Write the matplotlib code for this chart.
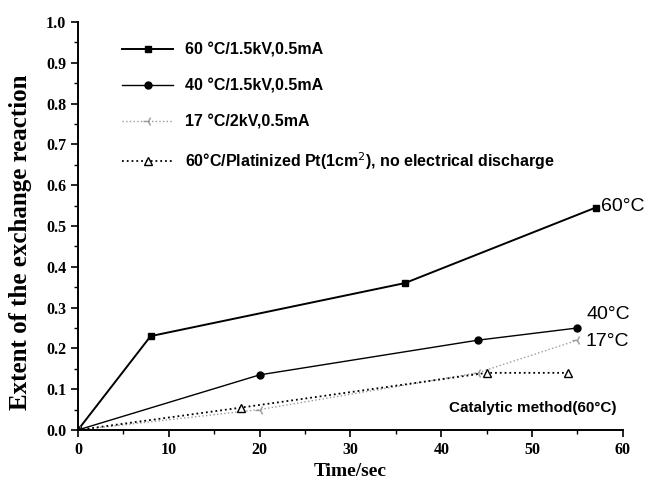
import matplotlib
matplotlib.use("Agg")
import matplotlib.pyplot as plt
from matplotlib.ticker import MultipleLocator

# data
t_60 = [0, 8, 36, 57]
y_60 = [0.0, 0.23, 0.36, 0.545]
t_40 = [0, 20, 44, 55]
y_40 = [0.0, 0.135, 0.22, 0.25]
t_17 = [0, 20, 44, 55]
y_17 = [0.0, 0.05, 0.14, 0.22]
t_pt = [0, 18, 45, 54]
y_pt = [0.0, 0.055, 0.14, 0.14]

labels = ["60 \u00b0C/1.5kV,0.5mA", "40 \u00b0C/1.5kV,0.5mA", "17 \u00b0C/2kV,0.5mA",
          "60\u00b0C/Platinized Pt(1cm$^2$), no electrical discharge"]

serif = {"family": "Liberation Serif", "weight": "bold"}

fig = plt.figure(figsize=(6.55, 4.94), dpi=100)
ax = fig.add_axes([0.119, 0.1296, 0.832, 0.826])

ax.plot(t_60, y_60, "-", color="black", lw=1.4, marker="s", ms=5, label=labels[0])
ax.plot(t_40, y_40, "-", color="black", lw=1.0, marker="o", ms=5, label=labels[1])
ax.plot(t_17, y_17, ":", color="#9a9a9a", lw=1.0, marker="3", ms=7, label=labels[2])
ax.plot(t_pt, y_pt, ":", color="black", lw=1.3, marker="^", ms=6, mfc="white",
        label=labels[3])

ax.set_xlim(0, 60)
ax.set_ylim(0, 1.0)
ax.xaxis.set_minor_locator(MultipleLocator(5))
ax.yaxis.set_minor_locator(MultipleLocator(0.05))
ax.spines["top"].set_visible(False)
ax.spines["right"].set_visible(False)
ax.spines["left"].set_linewidth(1.4)
ax.spines["bottom"].set_linewidth(1.4)
ax.tick_params(which="major", direction="out", length=5, width=1.2)
ax.tick_params(which="minor", direction="out", length=3, width=1.0)
ax.set_xticks(range(0, 61, 10))
ax.set_xticklabels([str(v) for v in range(0, 61, 10)], fontdict=serif, fontsize=11.5)
yt = [i / 10 for i in range(11)]
ax.set_yticks(yt)
ax.set_yticklabels(["%.1f" % v for v in yt], fontdict=serif, fontsize=11.5)
ax.set_xlabel("Time/sec", fontdict=serif, fontsize=14)
ax.set_ylabel("Extent of the exchange reaction", fontdict=serif, fontsize=18)
ax.yaxis.set_label_coords(-0.084, 0.46)

leg = ax.legend(loc="upper left", bbox_to_anchor=(0.055, 0.985), frameon=False,
                prop={"family": "Liberation Sans", "weight": "bold", "size": 11.5},
                handlelength=3.2, labelspacing=1.3, handletextpad=0.7)

sans = {"family": "Liberation Sans", "size": 14}
ax.text(57.6, 0.548, "60\u00b0C", va="center", ha="left", **sans)
ax.text(56.0, 0.283, "40\u00b0C", va="center", ha="left", **sans)
ax.text(55.9, 0.218, "17\u00b0C", va="center", ha="left", **sans)
ax.text(59.3, 0.054, "Catalytic method(60\u00b0C)", va="center", ha="right",
        family="Liberation Sans", weight="bold", size=11)

plt.savefig("out.png", dpi=100)
plt.close(fig)
